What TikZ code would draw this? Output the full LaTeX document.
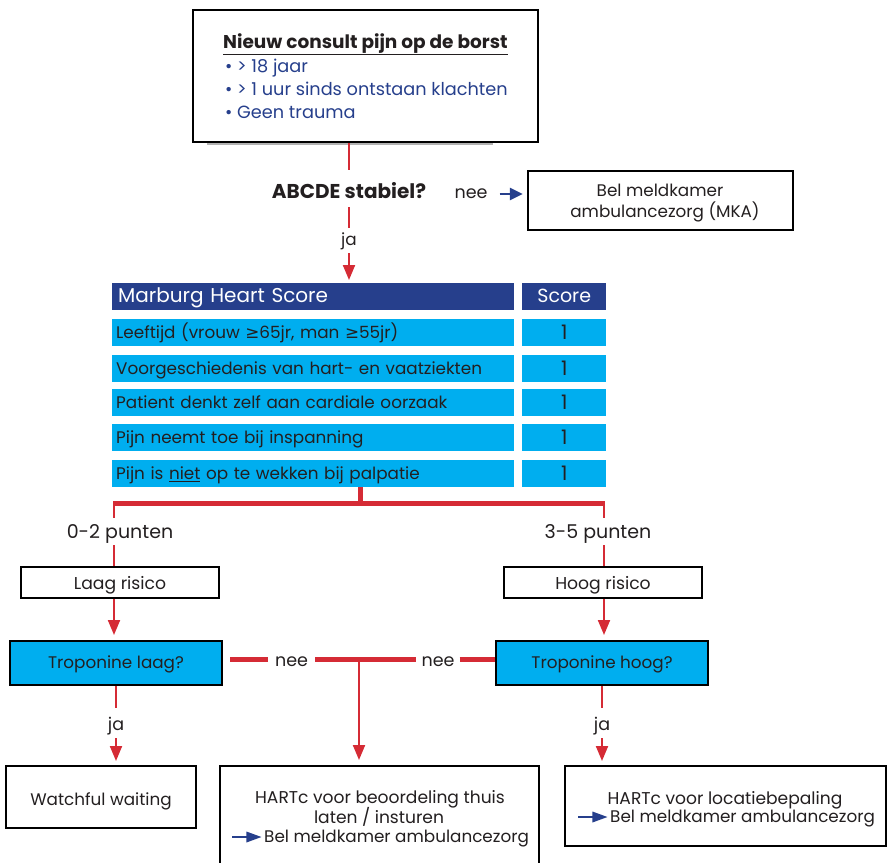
\documentclass[tikz,border=0pt]{standalone}
\usepackage{fontspec}
\setmainfont{Poppins}
\newfontfamily\dejavu{DejaVu Sans}
\usetikzlibrary{arrows.meta}
\definecolor{mhblue}{HTML}{263F8C}
\definecolor{mhcyan}{HTML}{00AEEF}
\definecolor{mhred}{HTML}{D52B35}
\definecolor{mhtext}{HTML}{231F20}
\newcommand{\bluearr}{\tikz[x=1pt,y=1pt,baseline=0pt]{\draw[line width=2.6pt,mhblue](0,5)--(18,5);\fill[mhblue](14,-0.5)--(29,5)--(14,10.5)--cycle;}}
\newcommand{\mhge}{{\dejavu ≥}}
\newcommand{\fbody}{\fontsize{16.8}{19}\selectfont}
\begin{document}
\begin{tikzpicture}[x=1pt,y=-1pt,
  box/.style={draw=black, line width=2.2pt, fill=white, inner sep=0pt},
  cyanbox/.style={box, fill=mhcyan},
  redline/.style={draw=mhred, line width=2pt},
  thickred/.style={draw=mhred, line width=5pt},
  redarrow/.style={redline, -{Triangle[width=12pt,length=15pt]}},
  bluearrow/.style={draw=mhblue, line width=2.6pt, -{Triangle[width=12pt,length=13pt]}},
  txt/.style={font=\fbody, text=mhtext, inner sep=0pt},
  bluetxt/.style={txt, text=mhblue, font=\fontsize{17.7}{19}\selectfont},
  row/.style={fill=mhcyan, minimum height=27pt, text width=394pt, align=left, inner xsep=4pt, inner ysep=0pt, anchor=north west, text height=19pt, text depth=8pt, font=\fbody, text=mhtext},
  cell/.style={fill=mhcyan, minimum height=27pt, minimum width=84pt, anchor=north west, inner sep=0pt, text height=20pt, text depth=7pt, font=\fontsize{20}{20}\selectfont, text=mhtext},
]
\useasboundingbox (0,0) rectangle (888,862);
\clip (0,0) rectangle (888,862);

% top box
\draw[gray!60, line width=1.5pt] (207,144) -- (493,144);
\node[box, minimum width=345pt, minimum height=132pt] (top) at (365.5,76) {};
\node[txt, anchor=base west, font=\bfseries\fontsize{18.5}{19}\selectfont] (title) at (223,48) {\underline{Nieuw consult pijn op de borst}};
\node[bluetxt, anchor=base west] (b1) at (225,72) {• > 18 jaar};
\node[bluetxt, anchor=base west] (b2) at (225,95) {• > 1 uur sinds ontstaan klachten};
\node[bluetxt, anchor=base west] (b3) at (225,118) {• Geen trauma};

% ABCDE
\node[txt, anchor=base, font=\bfseries\fontsize{20}{20}\selectfont, text height=28pt, text depth=9pt] (abcde) at (349,198) {ABCDE stabiel?};
\draw[redline] (abcde.north |- top.south) -- (abcde.north);
\node[txt, anchor=base, text height=17pt, text depth=8pt] (ja1) at (349,245) {ja};
\draw[redline] (abcde.south) -- (ja1.north);
\node[txt, anchor=base, text height=8pt, text depth=0pt, font=\fontsize{17.5}{19}\selectfont] (nee0) at (471,198) {nee};
\node[box, minimum width=265pt, minimum height=59pt] (mka) at (660.5,200.5) {};
\node[txt, anchor=base] (mka1) at (660,196) {Bel meldkamer};
\node[txt, anchor=base] (mka2) at (665,217) {ambulancezorg (MKA)};
\draw[bluearrow, shorten >=4pt] ([xshift=12pt]nee0.east) -- (mka.west |- nee0.east);

% table
\node[row, fill=mhblue, text=white, inner xsep=6pt, text width=390pt, font=\fontsize{20}{20}\selectfont] (mhs) at (112,283) {Marburg Heart Score};
\node[cell, fill=mhblue, text=white, font=\fontsize{19}{20}\selectfont, text height=19pt, text depth=8pt] (sch) at (522,283) {Score};
\draw[redarrow, shorten >=3pt] (ja1.south) -- (ja1.south |- mhs.north);
\node[row] (r1) at (112,319) {Leeftijd (vrouw \mhge65jr, man \mhge55jr)};
\node[row] (r2) at (112,355) {Voorgeschiedenis van hart- en vaatziekten};
\node[row] (r3) at (112,389) {Patient denkt zelf aan cardiale oorzaak};
\node[row] (r4) at (112,424) {Pijn neemt toe bij inspanning};
\node[row] (r5) at (112,460) {Pijn is \underline{niet} op te wekken bij palpatie};
\node[cell] (s1) at (522,319) {1};
\node[cell] (s2) at (522,355) {1};
\node[cell] (s3) at (522,389) {1};
\node[cell] (s4) at (522,424) {1};
\node[cell] (s5) at (522,460) {1};

% split
\coordinate (split) at (360,503);
\coordinate (L) at (114,503);
\coordinate (R) at (604,503);
\draw[thickred] (split |- r5.south) -- (split);
\draw[thickred] ([xshift=-1pt]L) -- ([xshift=1pt]R);

\node[txt, anchor=base, text height=20pt, text depth=7pt, font=\fontsize{19}{20}\selectfont] (p02) at (120,538) {0-2 punten};
\node[txt, anchor=base, text height=20pt, text depth=7pt, font=\fontsize{19}{20}\selectfont] (p35) at (598,538) {3-5 punten};
\node[box, anchor=north, minimum width=198pt, text height=22pt, text depth=9pt, font=\fontsize{17.2}{19}\selectfont, text=mhtext] (laag) at (120,566) {Laag risico};
\node[box, anchor=north, minimum width=198pt, text height=22pt, text depth=9pt, font=\fontsize{17.2}{19}\selectfont, text=mhtext] (hoog) at (603,566) {Hoog risico};
\draw[redline] (L) -- (L |- p02.north);
\draw[redline] (L |- p02.south) -- (L |- laag.north);
\draw[redline] (R) -- (R |- p35.north);
\draw[redline] (R |- p35.south) -- (R |- hoog.north);

\node[cyanbox, anchor=north, minimum width=212pt, text height=27pt, text depth=17pt, font=\fbody, text=mhtext] (tl) at (116,640) {Troponine laag?};
\node[cyanbox, anchor=north, minimum width=212pt, text height=27pt, text depth=17pt, font=\fbody, text=mhtext] (th) at (602,640) {Troponine hoog?};
\draw[redarrow, shorten >=5pt] (L |- laag.south) -- (L |- tl.north);
\draw[redarrow, shorten >=5pt] (R |- hoog.south) -- (R |- th.north);

\coordinate (mid) at (359,659);
\node[txt, anchor=base, inner xsep=7pt, text height=7pt, text depth=0pt, font=\fontsize{17.5}{19}\selectfont] (nee1) at (291.5,666) {nee};
\node[txt, anchor=base, inner xsep=5pt, text height=7pt, text depth=0pt, font=\fontsize{17.5}{19}\selectfont] (nee2) at (438,666) {nee};
\draw[thickred] ([xshift=7pt]tl.east |- mid) -- (nee1.west |- mid);
\draw[thickred] (nee1.east |- mid) -- (nee2.west |- mid);
\draw[thickred] (nee2.east |- mid) -- (th.west |- mid);

% bottom
\node[box, anchor=north, minimum width=190pt, text height=39pt, text depth=23pt, font=\fbody, text=mhtext] (ww) at (101,765) {Watchful waiting};
\node[box, anchor=north, minimum width=319pt, minimum height=130pt] (hm) at (379.5,765) {};
\node[box, anchor=north, minimum width=321pt, minimum height=80pt] (hr) at (725.5,765) {};
\node[txt, anchor=base, font=\fontsize{17.1}{19}\selectfont] (hm1) at (380,803) {HARTc voor beoordeling thuis};
\node[txt, anchor=base, font=\fontsize{17.1}{19}\selectfont] (hm2) at (379,823) {laten / insturen};
\node[txt, anchor=base] (hm3) at (380,842) {\bluearr\,Bel meldkamer ambulancezorg};
\node[txt, anchor=base, font=\fontsize{17.1}{19}\selectfont] (hr1) at (725,804) {HARTc voor locatiebepaling};
\node[txt, anchor=base] (hr2) at (726,822) {\bluearr\,Bel meldkamer ambulancezorg};

\node[txt, anchor=base, text height=22pt, text depth=8pt, font=\fontsize{17.5}{19}\selectfont] (ja2) at (116,730) {ja};
\node[txt, anchor=base, text height=22pt, text depth=8pt, font=\fontsize{17.5}{19}\selectfont] (ja3) at (602,730) {ja};
\draw[redline] (tl.south) -- (ja2.north);
\draw[redline] (th.south) -- (ja3.north);
\draw[redarrow, shorten >=4pt] (ja2.south) -- (ja2.south |- ww.north);
\draw[redarrow, shorten >=4pt] (ja3.south) -- (ja3.south |- hr.north);
\draw[redarrow, shorten >=5pt] (mid) -- (mid |- hm.north);
\end{tikzpicture}
\end{document}
